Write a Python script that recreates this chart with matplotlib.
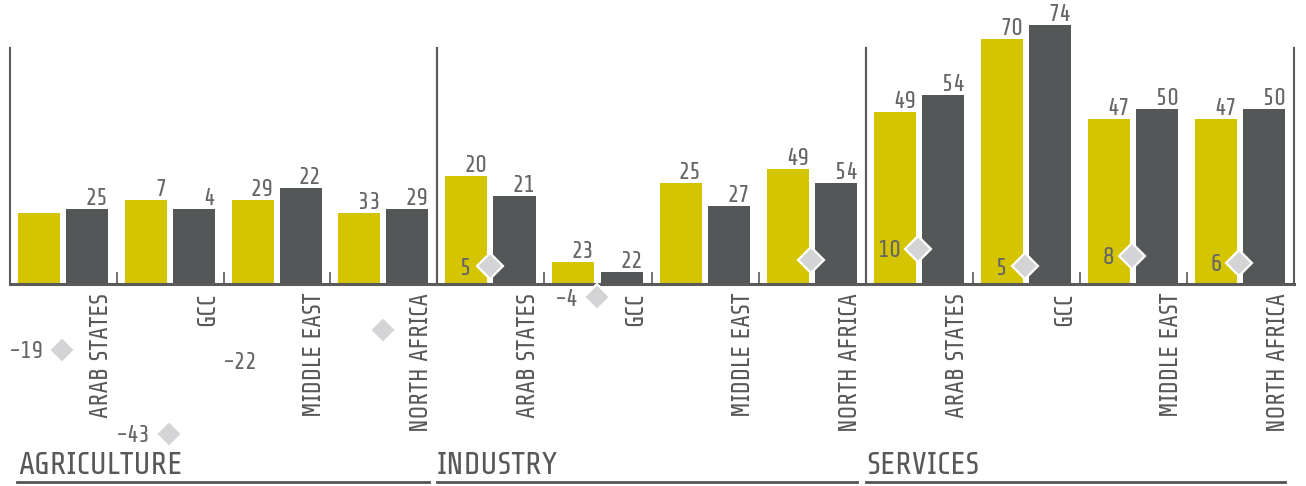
import matplotlib
matplotlib.use("Agg")
import matplotlib.pyplot as plt
import numpy as np
from matplotlib.lines import Line2D

plt.rcParams["font.family"] = ["Share Tech", "DejaVu Sans"]

# ---- data -------------------------------------------------------------
regions = ["ARAB STATES", "GCC", "MIDDLE EAST", "NORTH AFRICA"]
sectors = ["AGRICULTURE", "INDUSTRY", "SERVICES"]

agri_yellow = [20.3, 23.9, 23.9, 20.3]
agri_gray = [21.3, 21.3, 27.4, 21.3]
ind_yellow = [30.8, 6.2, 28.8, 32.8]
ind_gray = [25.1, 3.3, 22.2, 28.8]
serv_yellow = [49, 70, 47, 47]
serv_gray = [54, 74, 50, 50]

# value captions printed above the bars
agri_yellow_labels = ["", "7", "29", "33"]
agri_gray_labels = ["25", "4", "22", "29"]
ind_yellow_labels = ["20", "23", "25", "49"]
ind_gray_labels = ["21", "22", "27", "54"]
serv_yellow_labels = ["49", "70", "47", "47"]
serv_gray_labels = ["54", "74", "50", "50"]

# change markers (diamonds)
agri_change = [-19, -43, -22, -13.4]
agri_change_labels = ["-19", "-43", "-22", ""]
agri_change_shown = [True, True, False, True]
ind_change = [5, -4, np.nan, 6.6]
ind_change_labels = ["5", "-4", "", ""]
ind_change_shown = [True, True, False, True]
serv_change = [10, 5, 8, 6]
serv_change_labels = ["10", "5", "8", "6"]
serv_change_shown = [True, True, True, True]

panels = [
    (agri_yellow, agri_gray, agri_yellow_labels, agri_gray_labels,
     agri_change, agri_change_labels, agri_change_shown),
    (ind_yellow, ind_gray, ind_yellow_labels, ind_gray_labels,
     ind_change, ind_change_labels, ind_change_shown),
    (serv_yellow, serv_gray, serv_yellow_labels, serv_gray_labels,
     serv_change, serv_change_labels, serv_change_shown),
]

# ---- style ------------------------------------------------------------
YELLOW = "#d4c500"
DARK = "#535757"
DIAMOND = "#d4d4d6"
AXIS = "#5a5a5a"
TEXT = "#656666"

W, H = 1306, 486
fig = plt.figure(figsize=(W / 100, H / 100), dpi=100)

panel_px = [(10, 437), (437, 866), (866, 1294)]
base_px = 283.5
top_px = 48
px_per_unit = 3.49
ymax = (base_px - top_px) / px_per_unit

bar_w = 0.393
off_y, off_g = 0.272, 0.722
diamond_x = 0.49

for (x0, x1), sector, data in zip(panel_px, sectors, panels):
    yv, gv, yl, gl, ch, chl, chs = data
    ax = fig.add_axes([x0 / W, 1 - base_px / H, (x1 - x0) / W, (base_px - top_px) / H])
    ax.set_xlim(0, 4)
    ax.set_ylim(0, ymax)
    ax.set_facecolor("none")
    ax.spines["top"].set_visible(False)
    for s in ["left", "right"]:
        ax.spines[s].set_color(AXIS)
        ax.spines[s].set_linewidth(1.5)
    ax.spines["bottom"].set_color(AXIS)
    ax.spines["bottom"].set_linewidth(2.2)
    ax.set_xticks([])
    ax.set_yticks([])

    idx = np.arange(4)
    ax.bar(idx + off_y, yv, width=bar_w, color=YELLOW, clip_on=False, zorder=2)
    ax.bar(idx + off_g, gv, width=bar_w, color=DARK, clip_on=False, zorder=2)

    # separators between region groups
    ax.vlines([1, 2, 3], 0, 12 / px_per_unit, color=AXIS, lw=1.2, zorder=1)

    for i in range(4):
        for xc, v, lab in ((i + off_y, yv[i], yl[i]), (i + off_g, gv[i], gl[i])):
            if lab:
                ax.annotate(lab, xy=(xc + bar_w / 2, v), xytext=(0, 4),
                            textcoords="offset pixels", ha="right", va="baseline",
                            fontsize=17.5, color=TEXT, annotation_clip=False)
        # region name, rotated below the baseline
        ax.annotate(regions[i], xy=(i + 0.83, 0), xytext=(2, -9),
                    textcoords="offset pixels", rotation=90, ha="center", va="top",
                    fontsize=18, color="#585858", annotation_clip=False)
        if chs[i] and not np.isnan(ch[i]):
            ax.plot(i + diamond_x, ch[i], marker="D", ms=13, mfc=DIAMOND,
                    mec="white", mew=1.6, clip_on=False, zorder=5)
        if chl[i]:
            ax.annotate(chl[i], xy=(i + diamond_x, ch[i]), xytext=(-18, 0),
                        textcoords="offset pixels", ha="right", va="center_baseline",
                        fontsize=17.5, color=TEXT, annotation_clip=False, zorder=6)

# sector titles with underline
title_px = [(18, 17, 429), (437, 437, 857), (866, 866, 1285)]
for sector, (tx, lx0, lx1) in zip(sectors, title_px):
    fig.text(tx / W, 1 - 474 / H, sector, fontsize=23, color="#585858",
             ha="left", va="baseline")
    fig.add_artist(Line2D([lx0 / W, lx1 / W], [1 - 481.5 / H] * 2,
                          transform=fig.transFigure, lw=2, color="#555555"))

fig.savefig("out.png", dpi=100)
